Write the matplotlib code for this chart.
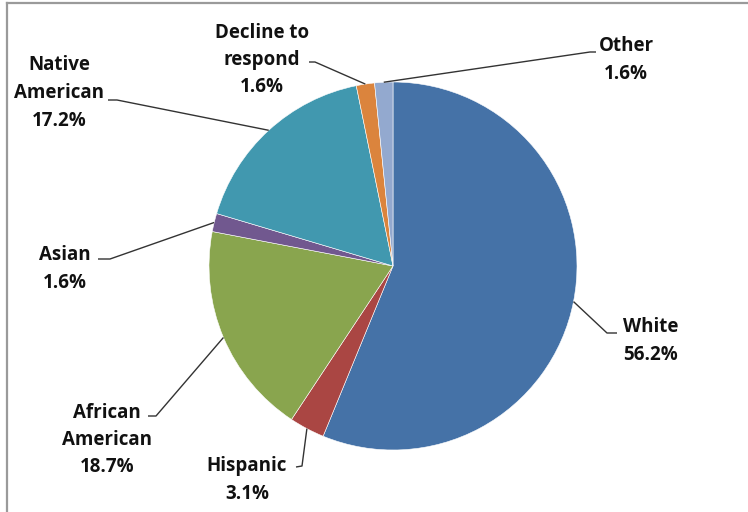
import numpy as np
import matplotlib
matplotlib.use("Agg")
import matplotlib.pyplot as plt
from matplotlib.lines import Line2D

categories = ["White", "Hispanic", "African\nAmerican", "Asian", "Native\nAmerican", "Decline to\nrespond", "Other"]
values = [56.2, 3.1, 18.7, 1.6, 17.2, 1.6, 1.6]
colors = ["#4572A7", "#AA4643", "#89A54E", "#71588F", "#4198AF", "#DB843D", "#93A9CF"]

W, H = 748, 512
fig = plt.figure(figsize=(W / 100, H / 100), dpi=100)
ax = fig.add_axes([0, 0, 1, 1])

def Y(y):
    return H - y

cx, cy, r = 393, 266, 184
wedges, _ = ax.pie(values, colors=colors, startangle=90, counterclock=False,
                   center=(cx, Y(cy)), radius=r, frame=True,
                   wedgeprops=dict(edgecolor="#ffffff", linewidth=0.4))
ax.set_xlim(0, W)
ax.set_ylim(0, H)
ax.set_aspect("equal")
ax.axis("off")

# label layout (pixel positions, y from top)
label_pos = [(651, 341), (247, 480), (107, 440), (65, 269), (59, 93), (262, 60), (626, 60)]
elbows = [((607, 333), (617, 333)),
          ((302, 466), (296, 467)),
          ((156, 416), (148, 416)),
          ((110, 259), (98, 259)),
          ((117, 100), (108, 100)),
          ((315, 62), (309, 62)),
          ((590, 52), (596, 52))]

for w, cat, v, (lx, ly), (e1, e2) in zip(wedges, categories, values, label_pos, elbows):
    mid = np.deg2rad((w.theta1 + w.theta2) / 2)
    sx = cx + r * np.cos(mid)
    sy = Y(cy) + r * np.sin(mid)
    ax.plot([sx, e1[0], e2[0]], [sy, Y(e1[1]), Y(e2[1])], color="#333333", lw=1.0,
            solid_capstyle="butt", zorder=1)
    ax.text(lx, Y(ly), f"{cat}\n{v:.1f}%", ha="center", va="center",
            fontsize=13.5, fontweight="bold", family=["Open Sans", "DejaVu Sans"],
            color="#111111", linespacing=1.5)

# chart frame (top and left edges)
fig.add_artist(Line2D([7 / W, 1], [1 - 3 / H, 1 - 3 / H], transform=fig.transFigure,
                      color="#9a9a9a", lw=1.6))
fig.add_artist(Line2D([7 / W, 7 / W], [0, 1 - 3 / H], transform=fig.transFigure,
                      color="#9a9a9a", lw=1.6))

fig.savefig("out.png", dpi=100)
